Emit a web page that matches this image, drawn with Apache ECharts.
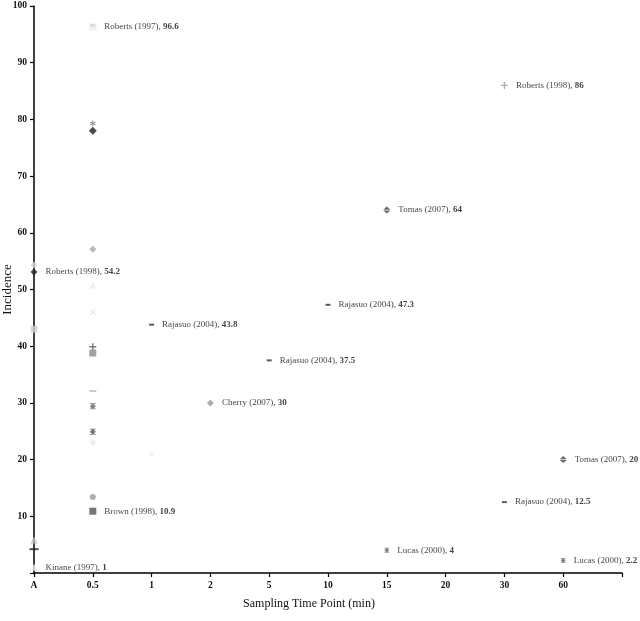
<!DOCTYPE html>
<html>
<head>
<meta charset="utf-8">
<script src="https://cdn.jsdelivr.net/npm/echarts@6/dist/echarts.min.js"></script>
<style>
html,body{margin:0;padding:0;background:#fff;}
#chart{width:640px;height:621px;}
</style>
</head>
<body>
<div id="chart"></div>
<script>
// ---- data ----
const categories = ['A', '0.5', '1', '2', '5', '10', '15', '20', '30', '60', ''];
const yTicks = [0, 10, 20, 30, 40, 50, 60, 70, 80, 90, 100];

// point category, incidence as plotted, study label, reported value (label text)
const pointCategory = ['A','A','A','A','A','A',
  '0.5','0.5','0.5','0.5','0.5','0.5','0.5','0.5','0.5','0.5','0.5','0.5','0.5','0.5','0.5',
  '1','1','2','5','10','15','15','30','30','60','60'];
const pointIncidence = [54.3, 53.1, 43.0, 5.8, 4.2, 1.0,
  96.6, 96.3, 79.3, 78.0, 57.1, 50.8, 46.0, 39.9, 38.8, 32.1, 29.4, 24.9, 23.0, 13.4, 10.9,
  43.8, 20.9, 30.0, 37.5, 47.3, 64.0, 4.0, 86.0, 12.5, 20.0, 2.2];
const pointStudy = ['', 'Roberts (1998)', '', '', '', 'Kinane (1997)',
  '', 'Roberts (1997)', '', '', '', '', '', '', '', '', '', '', '', '', 'Brown (1998)',
  'Rajasuo (2004)', '', 'Cherry (2007)', 'Rajasuo (2004)', 'Rajasuo (2004)', 'Tomas (2007)', 'Lucas (2000)',
  'Roberts (1998)', 'Rajasuo (2004)', 'Tomas (2007)', 'Lucas (2000)'];
const pointReported = ['', '54.2', '', '', '', '1',
  '', '96.6', '', '', '', '', '', '', '', '', '', '', '', '', '10.9',
  '43.8', '', '30', '37.5', '47.3', '64', '4',
  '86', '12.5', '20', '2.2'];

// ---- styles (kept apart from data) ----
const SYM = {
  dash: 'path://M0,0H10V3H0Z',
  plus: 'path://M4,0H6V4H10V6H6V10H4V6H0V4H4Z',
  cross: 'path://M0,1L1,0L5,4L9,0L10,1L6,5L10,9L9,10L5,6L1,10L0,9L4,5Z',
  star: 'path://M0,0H10V1.2H6.2L9.2,4.2L10,5L9.2,5.8L6.2,8.8H10V10H0V8.8H3.8L0.8,5.8L0,5L0.8,4.2L3.8,1.2H0Z',
  asterisk: 'path://M4.3,0H5.7V3.3L8.6,1.6L9.3,2.8L6.4,4.5L9.3,6.2L8.6,7.4L5.7,5.7V9H4.3V5.7L1.4,7.4L0.7,6.2L3.6,4.5L0.7,2.8L1.4,1.6L4.3,3.3Z',
  splitDiamond: 'path://M5,0L10,4.4H0Z M0,5.6H10L5,10Z'
};
const pointSymbol = ['circle','diamond','rect','triangle', SYM.dash,'triangle',
  SYM.dash,'rect',SYM.asterisk,'diamond','diamond','triangle',SYM.cross,SYM.plus,'rect',SYM.dash,SYM.star,SYM.star,'diamond','circle','rect',
  SYM.dash,'diamond','diamond',SYM.dash,SYM.dash,SYM.splitDiamond,SYM.star,SYM.plus,SYM.dash,SYM.splitDiamond,SYM.star];
const pointColor = ['#d8d8d8','#222','#cfcfcf','#bdbdbd','#222','#efefef',
  '#555','#ececec','#777','#1e1e1e','#a8a8a8','#eeeeee','#dcdcdc','#555','#8a8a8a','#bdbdbd','#666','#555','#e9e9e9','#999','#555',
  '#333','#ededed','#9a9a9a','#333','#333','#444','#666','#999','#333','#444','#666'];
const pointSize = [6,7,7,7,[9,2],7,
  [5,2],7,6,8,7,7,6,7,7,[7,2],6,6,7,6,7,
  [5,2],6,7,[5,2],[5,2],7,5,7,[5,2],7,5];

const fontFam = "'Liberation Serif', 'Times New Roman', serif";

const data = pointCategory.map((c, i) => {
  const item = {
    value: [c, pointIncidence[i]],
    symbol: pointSymbol[i],
    symbolSize: pointSize[i],
    itemStyle: { color: pointColor[i] }
  };
  if (pointStudy[i]) {
    item.label = {
      show: true,
      position: 'right',
      distance: 8,
      formatter: '{n|' + pointStudy[i] + ', }{b|' + pointReported[i] + '}',
      rich: {
        n: { fontFamily: fontFam, fontSize: 9, color: '#111' },
        b: { fontFamily: fontFam, fontSize: 9, fontWeight: 'bold', color: '#111' }
      }
    };
  }
  return item;
});

const chart = echarts.init(document.getElementById('chart'), null, { renderer: 'canvas' });
chart.setOption({
  backgroundColor: '#fff',
  animation: false,
  grid: { left: 34, right: 18, top: 6, bottom: 48, containLabel: false, outerBoundsMode: 'none' },
  xAxis: {
    type: 'category',
    data: categories,
    boundaryGap: false,
    name: 'Sampling Time Point (min)',
    nameLocation: 'middle',
    nameGap: 25,
    nameMoveOverlap: false,
    nameTextStyle: { fontFamily: fontFam, fontSize: 12, color: '#111', padding: [0, 38, 0, 0] },
    axisLine: { lineStyle: { color: '#000', width: 1.5 } },
    axisTick: { show: true, length: 4, interval: 0, lineStyle: { color: '#000', width: 1.2 } },
    axisLabel: { interval: 0, margin: 8, fontFamily: fontFam, fontSize: 9.5, fontWeight: 'bold', color: '#111' },
    splitLine: { show: false }
  },
  yAxis: {
    type: 'value',
    min: yTicks[0],
    max: yTicks[yTicks.length - 1],
    interval: 10,
    name: 'Incidence',
    nameLocation: 'middle',
    nameGap: 20,
    nameRotate: 90,
    nameMoveOverlap: false,
    nameTextStyle: { fontFamily: fontFam, fontSize: 13, color: '#111' },
    axisLine: { show: true, lineStyle: { color: '#000', width: 1.5 } },
    axisTick: { show: true, length: 4, lineStyle: { color: '#000', width: 1.2 } },
    axisLabel: {
      margin: 7, fontFamily: fontFam, fontSize: 9.5, fontWeight: 'bold', color: '#111',
      formatter: v => (v === 0 ? '' : String(v))
    },
    splitLine: { show: false }
  },
  series: [{
    type: 'scatter',
    data: data,
    emphasis: { disabled: true }
  }]
});
</script>
</body>
</html>
